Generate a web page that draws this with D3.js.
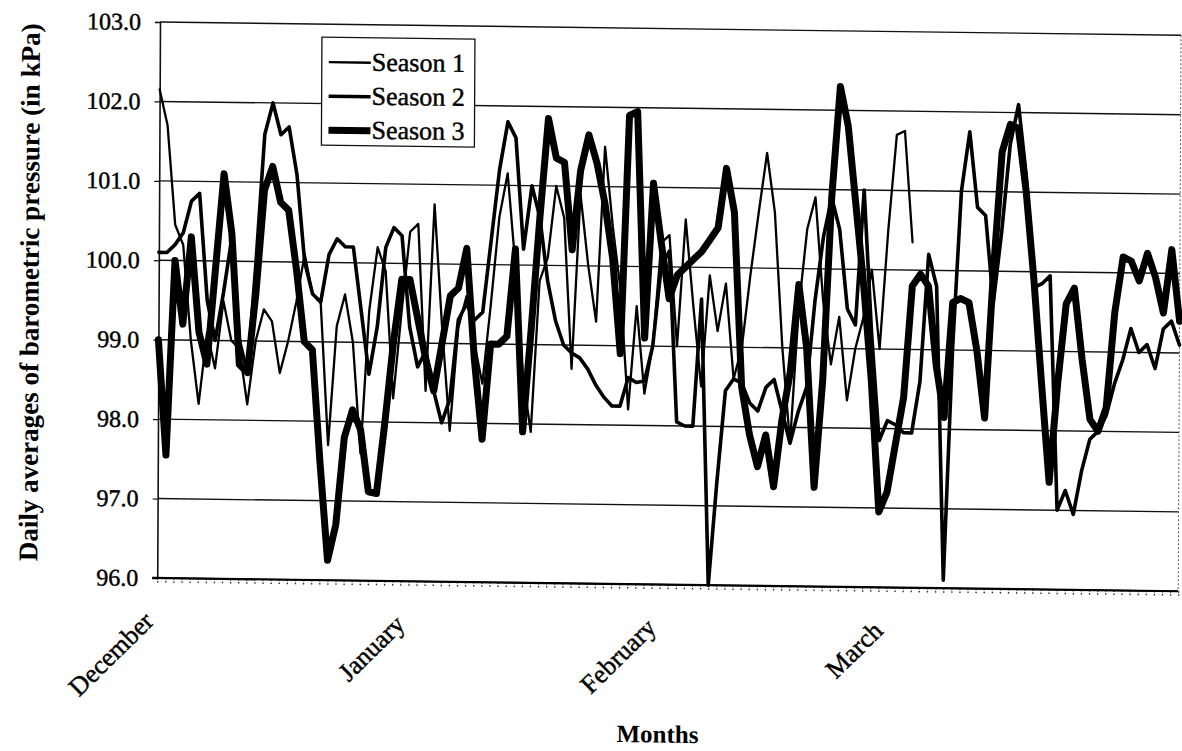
<!DOCTYPE html>
<html>
<head>
<meta charset="utf-8">
<script src="https://cdn.jsdelivr.net/npm/d3@7"></script>
<style>
  html, body { margin: 0; padding: 0; background: #fff; }
  svg { display: block; }
</style>
</head>
<body>
<svg id="chart" width="1182" height="751"></svg>
<script>
// Month labels and the day index (from 1 December) where each month begins
const monthNames = ["December", "January", "February", "March"];
const monthStartDay = [0, 31, 62, 90];

// Pressure gridlines / tick values (kPa)
const pressureTicks = [96, 97, 98, 99, 100, 101, 102, 103];

const seriesNames = ["Season 1", "Season 2", "Season 3"];

// Daily mean barometric pressure, kPa, one value per day from 1 December
const season1 = [
  102.15, 101.7, 100.45, 100.2, 99.0, 98.2, 99.1, 98.65, 99.5, 99.0,
  98.9, 98.2, 99.0, 99.4, 99.25, 98.6, 99.0, 99.5, 100.1, 99.6,
  99.5, 97.7, 99.2, 99.6, 99.0, 97.6, 99.4, 100.2, 99.9, 98.3,
  99.4, 100.4, 100.5, 98.4, 100.75, 99.2, 97.9, 99.2, 99.6, 99.0,
  98.5, 99.5, 100.6, 101.15, 100.0, 98.6, 97.9, 99.8, 100.1, 101.0,
  100.6, 98.7, 100.9, 100.0, 99.3, 101.5, 100.5, 99.7, 98.2, 99.5,
  98.4, 99.0, 100.3, 100.4, 99.0, 100.6, 99.5, 98.5, 99.9, 99.2,
  99.8, 98.6, 99.0, 99.9, 100.7, 101.45, 100.7, 99.0, 97.8, 99.5,
  100.5, 100.9, 99.6, 98.8, 99.4, 98.35, 99.0, 99.4, 100.0, 99.0,
  100.5, 101.7, 101.75, 100.35
];

const season2 = [
  100.1, 100.1, 100.2, 100.35, 100.75, 100.85, 99.5, 99.0, 99.6, 100.3,
  99.0, 98.6, 100.0, 101.6, 102.0, 101.6, 101.7, 101.1, 100.0, 99.6,
  99.5, 100.1, 100.3, 100.2, 100.2, 99.4, 98.6, 99.2, 100.2, 100.45,
  100.35, 99.2, 98.7, 98.9, 98.4, 98.0, 98.3, 99.3, 99.5, 99.3,
  99.4, 100.3, 101.2, 101.8, 101.6, 100.2, 101.0, 100.6, 99.8, 99.3,
  99.0, 98.9, 98.84, 98.7, 98.5, 98.35, 98.24, 98.24, 98.6, 98.54,
  98.56, 99.0, 100.0, 100.2, 98.05, 98.0, 98.0, 99.6, 96.0, 97.3,
  98.45, 98.6, 98.55, 98.3, 98.2, 98.5, 98.6, 98.2, 97.8, 98.2,
  98.5, 99.6, 100.4, 100.9, 100.5, 99.5, 99.3, 101.0, 99.2, 97.85,
  98.1, 98.05, 97.95, 97.95, 98.6, 100.2, 99.8, 96.1, 99.0, 101.0,
  101.75, 100.8, 100.7, 99.6, 100.5, 101.6, 102.1, 101.2, 99.8, 99.85,
  99.95, 97.0, 97.25, 96.95, 97.5, 97.9, 98.0, 98.2, 98.6, 98.9,
  99.3, 99.0, 99.1, 98.8, 99.3, 99.4, 99.1
];

const season3 = [
  99.0, 97.55, 100.0, 99.2, 100.3, 99.1, 98.7, 99.9, 101.1, 100.35,
  98.7, 98.6, 99.6, 100.9, 101.2, 100.75, 100.65, 99.9, 99.0, 98.9,
  97.5, 96.25, 96.7, 97.8, 98.15, 97.9, 97.12, 97.1, 98.0, 99.0,
  99.8, 99.8, 99.3, 98.8, 98.4, 99.0, 99.6, 99.7, 100.2, 98.8,
  97.8, 99.0, 99.0, 99.1, 100.2, 97.9, 99.2, 100.6, 101.85, 101.35,
  101.3, 100.2, 101.2, 101.65, 101.3, 100.8, 100.1, 98.9, 101.9, 101.95,
  99.1, 101.05, 100.3, 99.6, 99.9, 100.0, 100.1, 100.2, 100.35, 100.5,
  101.25, 100.7, 98.5, 97.9, 97.5, 97.9, 97.25, 98.1, 98.7, 99.8,
  99.0, 97.25, 98.6, 100.9, 102.3, 101.8, 100.8, 99.8, 98.6, 96.95,
  97.2, 97.8, 98.4, 99.8, 99.95, 99.8, 98.8, 98.15, 99.6, 99.65,
  99.6, 99.0, 98.15, 100.0, 101.5, 101.85, 101.8, 101.0, 99.9, 98.6,
  97.35, 98.6, 99.6, 99.8, 98.9, 98.15, 98.0, 98.3, 99.5, 100.2,
  100.15, 99.9, 100.25, 99.95, 99.5, 100.3, 99.4
];

const seriesData = [season1, season2, season3];
const seriesWidths = [2.3, 3.6, 7];

// ---------------------------------------------------------------------------
const svg = d3.select("#chart");
svg.append("rect").attr("width", 1182).attr("height", 751).attr("fill", "#fff");

// the printed page sits very slightly skewed
const root = svg.append("g")
  .attr("transform", "matrix(1,0.013,-0.005,1,0.11,-2.08)");

const plot = { left: 160, right: 1181, top: 22, bottom: 578 };
const nDays = season2.length;

const x = d3.scaleLinear().domain([0, nDays - 1]).range([plot.left, plot.right]);
const y = d3.scaleLinear().domain([96, 103]).range([plot.bottom, plot.top]);

const serif = "'Liberation Serif', 'Times New Roman', serif";
// printed text looks a touch heavier than the plain face
const ink = sel => sel.attr("stroke", "#000").attr("stroke-width", 0.45).attr("fill", "#000");

// horizontal gridlines
root.append("g")
  .selectAll("line")
  .data(pressureTicks)
  .join("line")
  .attr("x1", plot.left).attr("x2", plot.right)
  .attr("y1", d => y(d)).attr("y2", d => y(d))
  .attr("stroke", "#111").attr("stroke-width", 1.4);

// right border of the plot area (faint dotted)
root.append("line")
  .attr("x1", plot.right).attr("x2", plot.right)
  .attr("y1", plot.top).attr("y2", plot.bottom)
  .attr("stroke", "#555").attr("stroke-width", 1)
  .attr("stroke-dasharray", "2,2");

// value axis
const yAxis = root.append("g")
  .attr("transform", `translate(${plot.left},0)`)
  .call(d3.axisLeft(y).tickValues(pressureTicks).tickSize(5).tickPadding(14)
    .tickFormat(d3.format(".1f")));
yAxis.select(".domain").attr("stroke", "#111").attr("stroke-width", 1.6);
yAxis.selectAll(".tick line").attr("stroke", "#111").attr("stroke-width", 1.2);
yAxis.selectAll(".tick text")
  .attr("font-family", serif).attr("font-size", 24).call(ink);

// category axis: one small tick per day below the axis line
const xAxis = root.append("g")
  .attr("transform", `translate(0,${plot.bottom})`)
  .call(d3.axisBottom(x).tickValues(d3.range(nDays)).tickSize(5).tickFormat(""));
xAxis.select(".domain").remove();
xAxis.selectAll(".tick line").attr("stroke", "#222").attr("stroke-width", 1.3)
  .attr("stroke-dasharray", "1.5,1.5");
root.append("line")
  .attr("x1", plot.left - 5).attr("x2", plot.right)
  .attr("y1", plot.bottom).attr("y2", plot.bottom)
  .attr("stroke", "#000").attr("stroke-width", 2.2);

// month labels, rotated
root.append("g")
  .selectAll("text")
  .data(monthNames)
  .join("text")
  .attr("transform", (d, i) => `translate(${x(monthStartDay[i]) - 2},${plot.bottom + 45}) rotate(-45)`)
  .attr("text-anchor", "end")
  .attr("font-family", serif).attr("font-size", 26)
  .call(ink)
  .text(d => d);

// series lines
const line = d3.line()
  .defined(d => d != null)
  .x((d, i) => x(i))
  .y(d => y(d));

root.append("g")
  .selectAll("path")
  .data(seriesData)
  .join("path")
  .attr("d", d => line(d))
  .attr("fill", "none")
  .attr("stroke", "#000")
  .attr("stroke-width", (d, i) => seriesWidths[i])
  .attr("stroke-linejoin", "round")
  .attr("stroke-linecap", "round");

// legend
const legend = root.append("g").attr("transform", "translate(322,35)");
legend.append("rect")
  .attr("width", 153).attr("height", 108)
  .attr("fill", "#fff").attr("stroke", "#111").attr("stroke-width", 1.3);
const item = legend.selectAll("g.item")
  .data(seriesNames)
  .join("g")
  .attr("class", "item")
  .attr("transform", (d, i) => `translate(0,${25 + i * 34})`);
item.append("line")
  .attr("x1", 7).attr("x2", 49).attr("y1", 0).attr("y2", 0)
  .attr("stroke", "#000")
  .attr("stroke-width", (d, i) => seriesWidths[i]);
item.append("text")
  .attr("x", 50).attr("y", 8)
  .attr("font-family", serif).attr("font-size", 26)
  .call(ink)
  .text(d => d);

// axis titles
const yTitle = root.append("text")
  .attr("transform", "translate(40,294) rotate(-90)")
  .attr("text-anchor", "middle")
  .attr("font-family", serif).attr("font-weight", "bold").attr("font-size", 26)
  .text("Daily averages of barometric pressure (in kPa)");
// keep the title spanning the full height of the value axis
const len = yTitle.node().getComputedTextLength();
yTitle.attr("font-size", 26 * 538 / len);

root.append("text")
  .attr("x", 661).attr("y", 736)
  .attr("text-anchor", "middle")
  .attr("font-family", serif).attr("font-weight", "bold").attr("font-size", 25)
  .text("Months");
</script>
</body>
</html>
